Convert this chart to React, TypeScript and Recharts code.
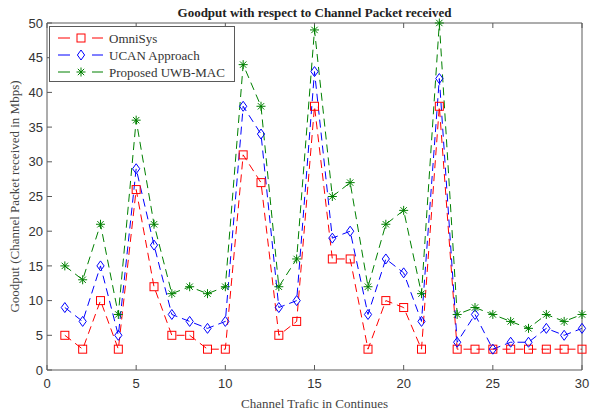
import React from 'react';
import { LineChart, Line, XAxis, YAxis, Label } from 'recharts';

const channels = [1,2,3,4,5,6,7,8,9,10,11,12,13,14,15,16,17,18,19,20,21,22,23,24,25,26,27,28,29,30];
const omniSys = [5,3,10,3,26,12,5,5,3,3,31,27,5,7,38,16,16,3,10,9,3,38,3,3,3,3,3,3,3,3];
const ucan = [9,7,15,5,29,18,8,7,6,7,38,34,9,10,43,19,20,8,16,14,7,42,4,8,3,4,4,6,5,6];
const uwbMac = [15,13,21,8,36,21,11,12,11,12,44,38,12,16,49,25,27,12,21,23,11,50,8,9,8,7,6,8,7,8];
const xTicks = [0,5,10,15,20,25,30];
const yTicks = [0,5,10,15,20,25,30,35,40,45,50];
const seriesNames = ['OmniSys', 'UCAN Approach', 'Proposed UWB-MAC'];

const data = channels.map((c, i) => ({ x: c, omni: omniSys[i], ucan: ucan[i], uwb: uwbMac[i] }));

const RED = '#ff0000';
const BLUE = '#0000ff';
const GREEN = '#008000';
const AXIS = '#5a5a5a';
const SERIF = '"Liberation Serif", "Times New Roman", serif';
const SANS = '"Liberation Sans", Arial, sans-serif';

const Square = ({ cx, cy, color }: any) => (
  <rect x={cx - 4} y={cy - 4} width={8} height={8} fill="none" stroke={color} strokeWidth={1} />
);
const Diamond = ({ cx, cy, color }: any) => (
  <polygon points={`${cx},${cy - 5} ${cx + 3.6},${cy} ${cx},${cy + 5} ${cx - 3.6},${cy}`} fill="none" stroke={color} strokeWidth={1} />
);
const Star = ({ cx, cy, color }: any) => {
  const r = 4.5;
  const d = r * 0.707;
  return (
    <g stroke={color} strokeWidth={1}>
      <line x1={cx - r} y1={cy} x2={cx + r} y2={cy} />
      <line x1={cx} y1={cy - r} x2={cx} y2={cy + r} />
      <line x1={cx - d} y1={cy - d} x2={cx + d} y2={cy + d} />
      <line x1={cx - d} y1={cy + d} x2={cx + d} y2={cy - d} />
    </g>
  );
};

const mkDot = (Comp: any, color: string) => (props: any) => {
  const { cx, cy, index } = props;
  if (cx == null || cy == null) return <g key={`d${index}`} />;
  return <g key={`${color}-${index}`}><Comp cx={cx} cy={cy} color={color} /></g>;
};

const LegendBox = () => {
  const rows = [
    { name: seriesNames[0], color: RED, M: Square },
    { name: seriesNames[1], color: BLUE, M: Diamond },
    { name: seriesNames[2], color: GREEN, M: Star },
  ];
  return (
    <div style={{ position: 'absolute', left: 49, top: 26, width: 186, height: 56, background: '#fff', border: `1px solid ${AXIS}`, boxSizing: 'border-box' }}>
      <svg width={184} height={54} style={{ position: 'absolute', left: 0, top: 0 }}>
        {rows.map((r, i) => {
          const y = 11 + i * 17;
          return (
            <g key={r.name}>
              <line x1={8} y1={y} x2={20} y2={y} stroke={r.color} strokeWidth={1} />
              <line x1={42} y1={y} x2={53} y2={y} stroke={r.color} strokeWidth={1} />
              <r.M cx={31} cy={y} color={r.color} />
              <text x={59} y={y + 4.5} fontFamily={SERIF} fontSize={13} fill="#333">{r.name}</text>
            </g>
          );
        })}
      </svg>
    </div>
  );
};

const YLabel = (props: any) => {
  const vb = props.viewBox || {};
  const cx = 14;
  const cy = (vb.y ?? 23) + (vb.height ?? 347) / 2;
  return (
    <text x={cx} y={cy} transform={`rotate(-90 ${cx} ${cy})`} textAnchor="middle" dominantBaseline="central" fontFamily={SERIF} fontSize={13} fill="#444">
      Goodput (Channel Packet received in Mbps)
    </text>
  );
};

const XLabel = () => (
  <text x={314.5} y={408} textAnchor="middle" fontFamily={SERIF} fontSize={13} fill="#444">
    Channel Trafic in Continues
  </text>
);

const Title = () => (
  <text x={314.5} y={17} textAnchor="middle" fontFamily={SERIF} fontSize={13} fontWeight="bold" fill="#222">
    Goodput with respect to Channel Packet received
  </text>
);

const empty = () => '';

export default function App() {
  return (
    <div style={{ position: 'absolute', left: 0, top: 0, width: 590, height: 414, background: '#fff' }}>
      <LineChart width={590} height={414} data={data} margin={{ top: 22, right: 7, bottom: 43, left: 46 }}>
        <XAxis xAxisId="b" dataKey="x" type="number" domain={[0, 30]} ticks={xTicks} orientation="bottom" height={1}
          tickSize={-5} tickMargin={14} stroke={AXIS} tick={{ fill: '#333', fontFamily: SANS, fontSize: 13 }} interval={0}>
          <Label content={<XLabel />} />
        </XAxis>
        <XAxis xAxisId="t" dataKey="x" type="number" domain={[0, 30]} ticks={xTicks} orientation="top" height={1}
          tickSize={-5} stroke={AXIS} tickFormatter={empty} interval={0}>
          <Label content={<Title />} />
        </XAxis>
        <YAxis yAxisId="l" type="number" domain={[0, 50]} ticks={yTicks} orientation="left" width={1}
          tickSize={-5} tickMargin={9} stroke={AXIS} tick={{ fill: '#333', fontFamily: SANS, fontSize: 13 }} interval={0}>
          <Label content={<YLabel />} />
        </YAxis>
        <YAxis yAxisId="r" type="number" domain={[0, 50]} ticks={yTicks} orientation="right" width={1}
          tickSize={-5} stroke={AXIS} tickFormatter={empty} interval={0} />
        <Line xAxisId="b" yAxisId="l" dataKey="omni" name={seriesNames[0]} stroke={RED} strokeWidth={1} strokeDasharray="8 5"
          dot={mkDot(Square, RED)} activeDot={false} isAnimationActive={false} />
        <Line xAxisId="b" yAxisId="l" dataKey="ucan" name={seriesNames[1]} stroke={BLUE} strokeWidth={1} strokeDasharray="8 5"
          dot={mkDot(Diamond, BLUE)} activeDot={false} isAnimationActive={false} />
        <Line xAxisId="b" yAxisId="l" dataKey="uwb" name={seriesNames[2]} stroke={GREEN} strokeWidth={1} strokeDasharray="8 5"
          dot={mkDot(Star, GREEN)} activeDot={false} isAnimationActive={false} />
      </LineChart>
      <LegendBox />
    </div>
  );
}
